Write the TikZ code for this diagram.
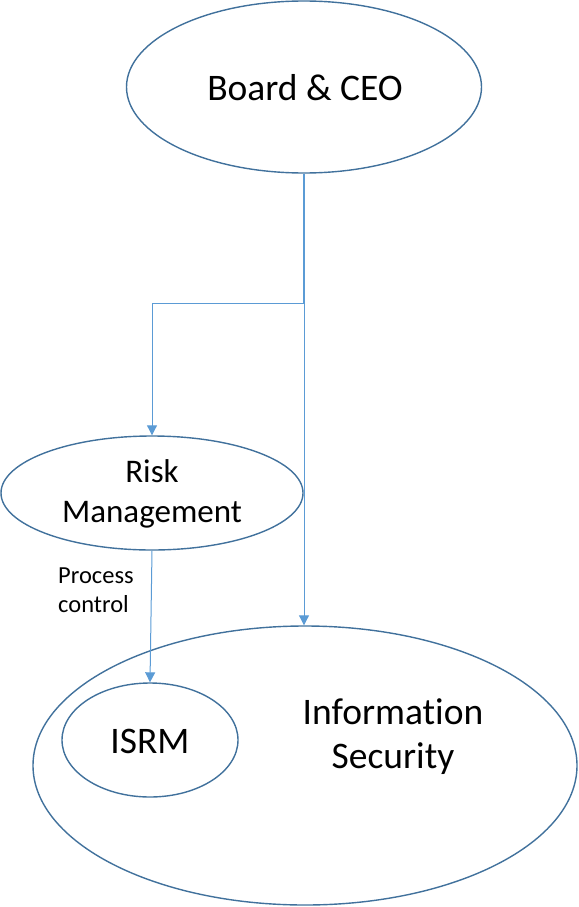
\documentclass[tikz,border=0pt]{standalone}
\usepackage{fontspec}
\setmainfont{Carlito}[Ligatures=NoCommon]
\usetikzlibrary{shapes.geometric,arrows.meta}
\definecolor{ellcol}{HTML}{41719C}
\definecolor{linecol}{HTML}{5B9BD5}
\tikzset{
  ell/.style={ellipse,draw=ellcol,line width=1.4pt,inner sep=0pt},
  conn/.style={draw=linecol,line width=1pt},
  arr/.style={conn,-{Triangle[width=10pt,length=10pt]}},
  bigtxt/.style={font=\fontsize{37.5}{44}\selectfont,align=center,inner sep=0pt},
  midtxt/.style={font=\fontsize{33}{40}\selectfont,align=center,inner sep=0pt},
  smalltxt/.style={font=\fontsize{24.5}{29}\selectfont,align=left,inner sep=0pt}
}
\begin{document}
\begin{tikzpicture}[x=1pt,y=-1pt]
\useasboundingbox (0,0) rectangle (578,907);
\node[ell,minimum width=355pt,minimum height=172pt] (board) at (304,87) {};
\node[bigtxt] (boardtxt) at (305,88) {Board \& CEO};
\node[ell,minimum width=302pt,minimum height=114pt] (risk) at (152,493) {};
\node[midtxt] (risktxt) at (152,494) {Risk\\Management};
\node[ell,minimum width=544pt,minimum height=279pt] (info) at (305,765.5) {};
\node[bigtxt] (infotxt) at (393,737) {Information\\Security};
\node[ell,minimum width=176pt,minimum height=114pt] (isrm) at (150,740) {};
\node[bigtxt] (isrmtxt) at (150,741) {ISRM};
\node[smalltxt,anchor=west] (pc) at (58,590) {Process\\control};
\coordinate (j) at (304,303);
\draw[conn,line width=2pt] (board.south) -- (j);
\draw[arr] (j) -| (risk.north);
\draw[arr] (j) -- (j |- info.north);
\draw[arr] (risk.south) -- (isrm.north);
\end{tikzpicture}
\end{document}
